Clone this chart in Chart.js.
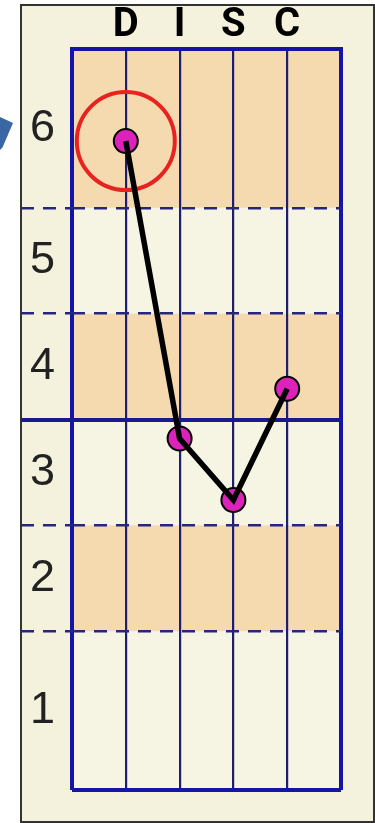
<!DOCTYPE html>
<html>
<head>
<meta charset="utf-8">
<title>DISC</title>
<script src="https://cdn.jsdelivr.net/npm/chart.js@4"></script>
<style>
  html, body { margin: 0; padding: 0; background: #ffffff; }
  #page { position: relative; width: 375px; height: 823px; overflow: hidden; }
  #frame {
    position: absolute; left: 20px; top: 4px; width: 355px; height: 819px;
    box-sizing: border-box; border: 2px solid #333333; background: #f4f2dc;
  }
  #pointer {
    position: absolute; left: 0; top: 117px; width: 13px; height: 33px;
    background: #3a67a3;
    clip-path: polygon(0 0, 100% 18%, 20% 92%, 0 100%);
  }
  #myChart { position: absolute; left: 0; top: 0; }
</style>
</head>
<body>
<div id="page">
  <div id="frame"></div>
  <div id="pointer"></div>
  <canvas id="myChart" width="375" height="823"></canvas>
</div>
<script>
const categories = ["D", "I", "S", "C"];
const scores = [6.13, 3.32, 2.74, 3.79];
const highlighted = "D";

// level labels sit in the middle of each band
const levelLabels = ["1", "2", "3", "4", "5", "6"];
const levelCenters = [0.75, 2, 3, 4, 5, 6.25];

const dashedLevels = [1.5, 2.5, 4.5, 5.5];
const solidLevels = [0, 3.5, 7];
const shadedBands = [[1.5, 2.5], [3.5, 4.5], [5.5, 7]];

const points = categories.map((c, i) => ({ x: i + 1, y: scores[i] }));
const hi = categories.indexOf(highlighted);

const bandFill = {
    id: "bandFill",
    beforeDraw(chart) {
        const { ctx, chartArea: a, scales: { y } } = chart;
        ctx.save();
        ctx.fillStyle = "#f6f4e2";
        ctx.fillRect(a.left, a.top, a.width, a.height);
        ctx.fillStyle = "#f5dab0";
        shadedBands.forEach(([lo, up]) => {
            const top = y.getPixelForValue(up);
            const bottom = y.getPixelForValue(lo);
            ctx.fillRect(a.left, top, a.width, bottom - top);
        });
        ctx.restore();
    }
};

const setTicks = (values) => (scale) => {
    scale.ticks = values.map((v) => ({ value: v }));
};

// no extra room for labels that hang over the ends
const fixSize = (w, h) => (scale) => {
    if (w !== null) scale.width = w;
    if (h !== null) scale.height = h;
    scale.paddingLeft = 0;
    scale.paddingRight = 0;
    scale.paddingTop = 0;
    scale.paddingBottom = 0;
};

const isEdge = (c) => c.tick.value === 0 || c.tick.value === categories.length + 1;

const ctx = document.getElementById("myChart").getContext("2d");

const config = {
    type: "line",
    data: {
        datasets: [{
            label: "profile",
            data: points,
            borderColor: "#000000",
            borderWidth: 5.5,
            pointRadius: 0,
            order: 0,
        }, {
            label: "points",
            data: points,
            showLine: false,
            pointRadius: 12,
            pointBackgroundColor: "#dd22bb",
            pointBorderColor: "#000000",
            pointBorderWidth: 2,
            order: 1,
        }, {
            label: "highlight",
            data: [points[hi]],
            showLine: false,
            pointRadius: 49,
            pointBackgroundColor: "rgba(0,0,0,0)",
            pointBorderColor: "#e8231f",
            pointBorderWidth: 4,
            order: 2,
        }],
    },
    options: {
        responsive: false,
        animation: false,
        events: [],
        layout: { autoPadding: false, padding: { left: 20, top: 5, right: 34, bottom: 33 } },
        plugins: { legend: { display: false }, tooltip: { enabled: false } },
        scales: {
            x: {
                type: "linear",
                position: "top",
                min: 0,
                max: categories.length + 1,
                afterBuildTicks: setTicks([0, 1, 2, 3, 4, 5]),
                afterFit: fixSize(null, 44),
                ticks: {
                    callback: (v) => categories[v - 1] || "",
                    color: "#000000",
                    padding: 3,
                    maxRotation: 0,
                    autoSkip: false,
                    font: { family: "Roboto, 'DejaVu Sans Condensed', sans-serif", size: 40, weight: "bold", lineHeight: 1 },
                },
                grid: {
                    drawTicks: false,
                    color: (c) => isEdge(c) ? "#1414a8" : "#1e1e70",
                    lineWidth: (c) => isEdge(c) ? 4 : 2.2,
                },
                border: { display: true, color: "#1414a8", width: 4 },
            },
            y: {
                type: "linear",
                position: "left",
                weight: 1,
                min: 0,
                max: 7,
                afterBuildTicks: setTicks(levelCenters),
                afterFit: fixSize(52, null),
                ticks: {
                    callback: (v, i) => levelLabels[i],
                    color: "#222222",
                    padding: 17,
                    font: { family: "'Liberation Sans', Arial, sans-serif", size: 45 },
                },
                grid: { display: false, drawTicks: false },
                border: { display: false },
            },
            ys: {
                type: "linear",
                position: "left",
                weight: 0,
                min: 0,
                max: 7,
                afterBuildTicks: setTicks(solidLevels),
                afterFit: fixSize(0, null),
                ticks: { display: false },
                grid: {
                    color: (c) => c.tick.value === 3.5 ? "#1a1a90" : "#1414a8",
                    lineWidth: 4,
                    tickLength: 51,
                    tickWidth: 4,
                    tickColor: (c) => c.tick.value === 3.5 ? "#1a1a90" : "rgba(0,0,0,0)",
                },
                border: { display: false },
            },
            yd: {
                type: "linear",
                position: "left",
                weight: 0,
                min: 0,
                max: 7,
                afterBuildTicks: setTicks(dashedLevels),
                afterFit: fixSize(0, null),
                ticks: { display: false },
                grid: {
                    color: "#26267e",
                    lineWidth: 2.5,
                    tickLength: 51,
                    tickWidth: 2.5,
                    tickColor: "#26267e",
                    tickBorderDash: [13, 9],
                },
                border: { display: false, dash: [13, 9] },
            },
        },
    },
    plugins: [bandFill],
};

const myChart = new Chart(ctx, config);
</script>
</body>
</html>
